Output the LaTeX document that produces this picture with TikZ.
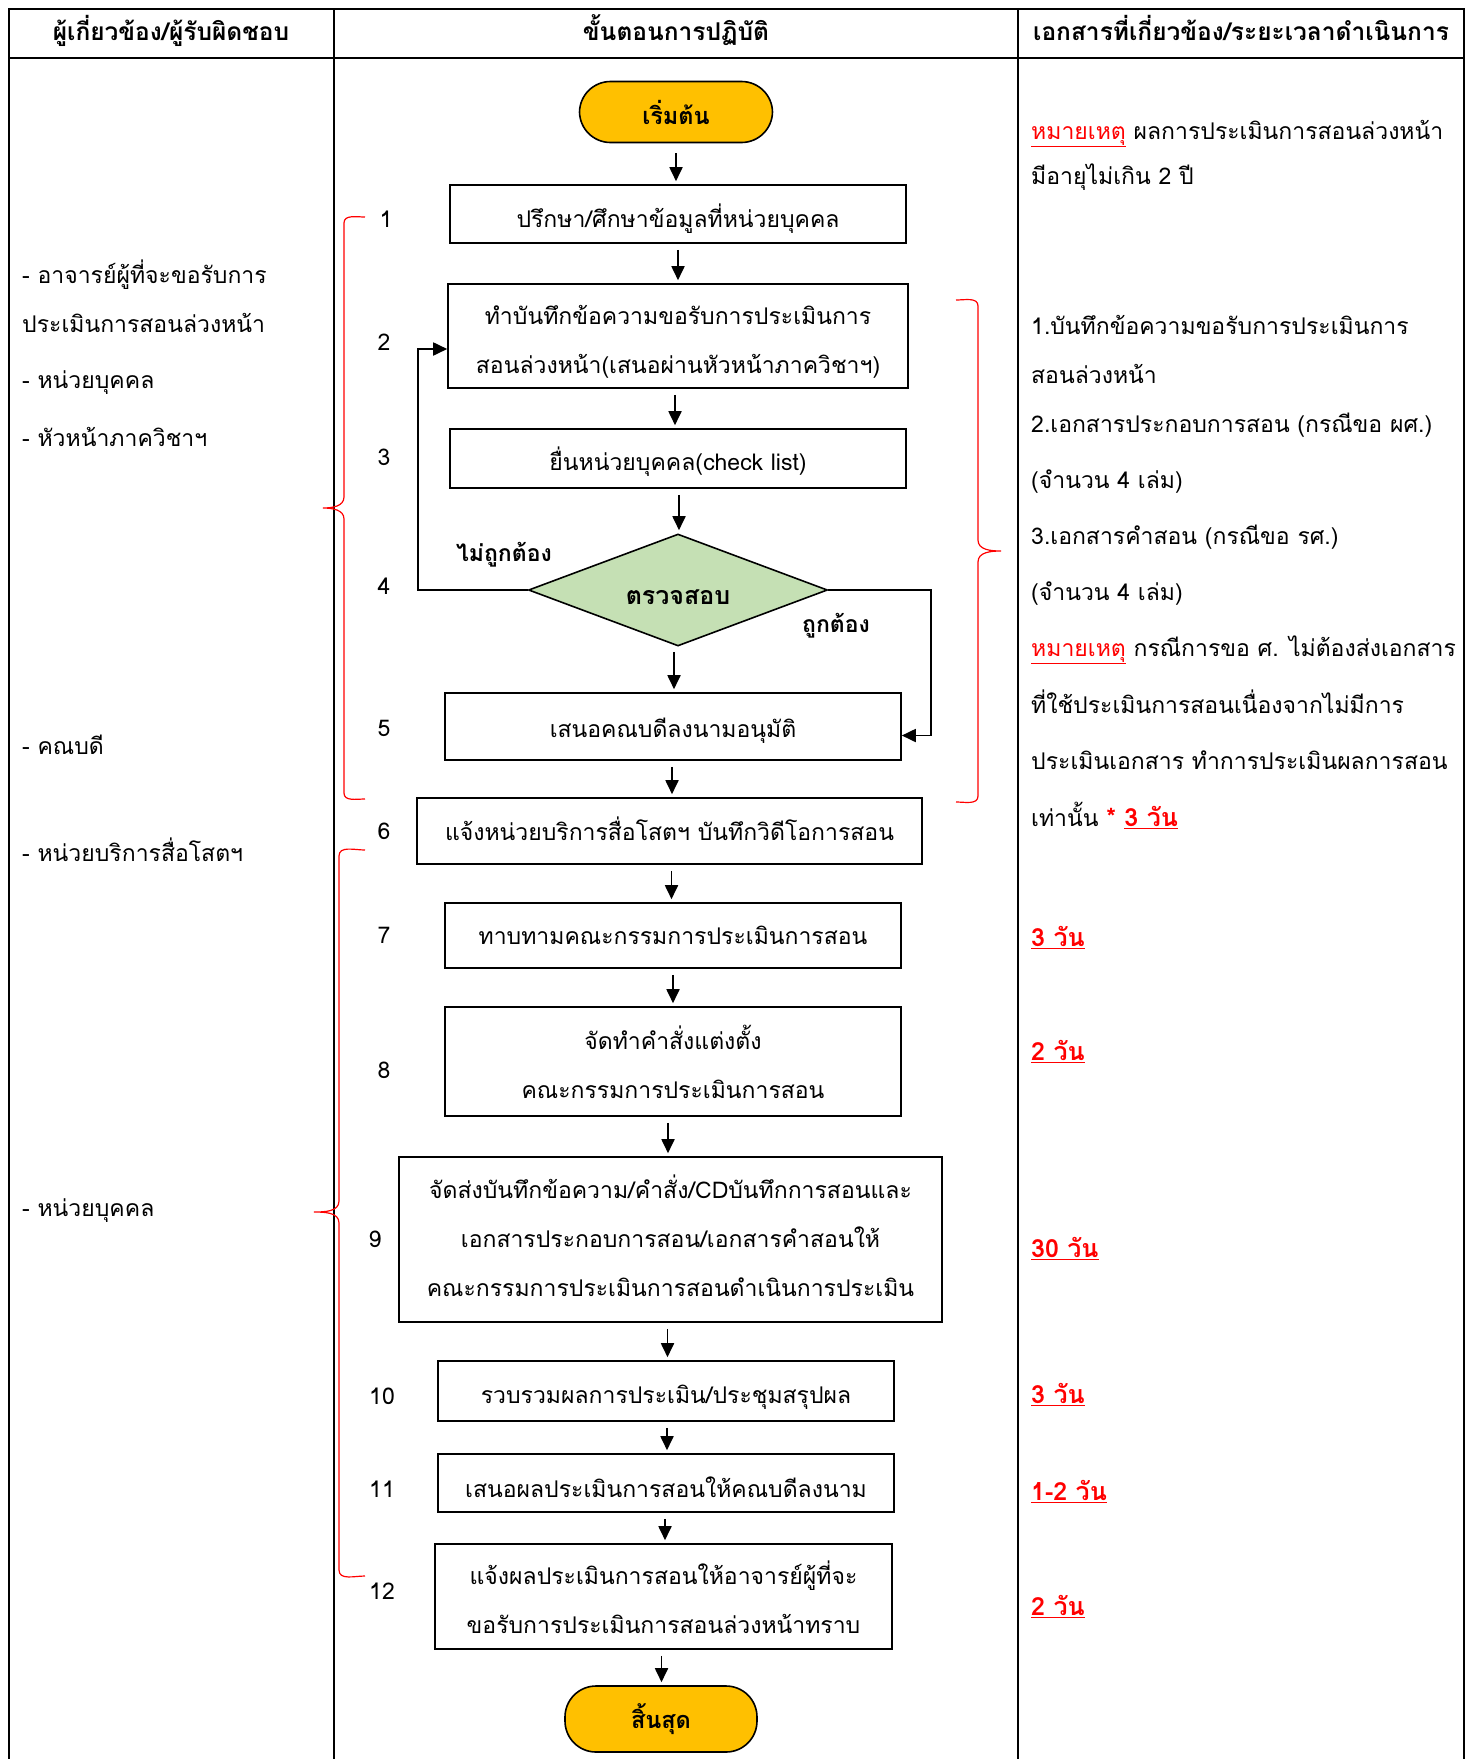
\documentclass[tikz,border=0pt]{standalone}
\usepackage{fontspec}
\setmainfont[Script=Thai]{Loma}
\usetikzlibrary{shapes.geometric,arrows.meta}
\definecolor{termc}{HTML}{FFC000}
\definecolor{diac}{HTML}{C5E0B4}
\definecolor{redc}{HTML}{FF0000}
\newcommand{\rul}[1]{\underline{#1}}
\begin{document}
\begin{tikzpicture}[x=1pt,y=-1pt,
  box/.style={draw=black,line width=1.6pt,inner sep=0pt},
  btxt/.style={align=center,inner sep=0pt,font=\fontsize{23}{49}\selectfont},
  term/.style={draw=black,line width=1.6pt,fill=termc,rounded corners=31pt,inner sep=0pt,font=\fontsize{23.5}{26}\selectfont\bfseries},
  arr/.style={-{Triangle[length=14pt,width=13pt]},line width=1.8pt,shorten <=6pt,shorten >=3pt},
  num/.style={font=\fontsize{23}{26}\selectfont,anchor=mid,yshift=-5.6pt},
  lt/.style={font=\fontsize{23}{26}\selectfont,anchor=mid west,inner sep=0pt,yshift=-5.6pt},
  rt/.style={font=\fontsize{23}{26}\selectfont,anchor=mid west,inner sep=0pt,yshift=-5.6pt},
  dy/.style={rt,text=redc,font=\fontsize{25}{26}\selectfont\bfseries},
  hd/.style={font=\fontsize{24.5}{26}\selectfont\bfseries,anchor=mid,yshift=-6.7pt},
  lbl/.style={font=\fontsize{23}{26}\selectfont\bfseries},
  brc/.style={draw=redc,line width=1.2pt},
  tline/.style={line width=2pt}]
\useasboundingbox (0,0) rectangle (1473,1759);
\fill[white] (0,0) rectangle (1473,1759);
% table
\draw[tline] (9,1759) -- (9,9) -- (1464,9) -- (1464,1759);
\draw[tline] (9,58) -- (1464,58);
\draw[tline] (334,9) -- (334,1759);
\draw[tline] (1018,9) -- (1018,1759);
\node[hd] (h1) at (171,31) {ผู้เกี่ยวข้อง/ผู้รับผิดชอบ};
\node[hd] (h2) at (676,31) {ขั้นตอนการปฏิบัติ};
\node[hd] (h3) at (1241,31) {เอกสารที่เกี่ยวข้อง/ระยะเวลาดำเนินการ};
% flow nodes
\node[term,minimum width=193pt,minimum height=61pt] (start) at (676,112) {เริ่มต้น};
\node[box,minimum width=456pt,minimum height=58pt] (b1) at (678,214) {};
\node[box,minimum width=460pt,minimum height=104pt] (b2) at (678,336) {};
\node[box,minimum width=456pt,minimum height=59pt] (b3) at (678,458.5) {};
\node[diamond,draw=black,line width=1.6pt,fill=diac,inner sep=0pt,minimum width=299pt,minimum height=112pt] (d4) at (678,590) {};
\node[box,minimum width=456pt,minimum height=67pt] (b5) at (673,726.5) {};
\node[box,minimum width=505pt,minimum height=66pt] (b6) at (669.5,831) {};
\node[box,minimum width=456pt,minimum height=65pt] (b7) at (673,935.5) {};
\node[box,minimum width=456pt,minimum height=109pt] (b8) at (673,1061.5) {};
\node[box,minimum width=543pt,minimum height=165pt] (b9) at (670.5,1239.5) {};
\node[box,minimum width=456pt,minimum height=60pt] (b10) at (666,1391) {};
\node[box,minimum width=456pt,minimum height=58pt] (b11) at (666,1483) {};
\node[box,minimum width=457pt,minimum height=105pt] (b12) at (663.5,1596.5) {};
\node[term,minimum width=192pt,minimum height=66pt] (end) at (661,1719) {สิ้นสุด};
% box texts
\node[btxt] (t1) at ([yshift=-4.5pt]b1.center) {ปรึกษา/ศึกษาข้อมูลที่หน่วยบุคคล};
\node[btxt] (t2) at ([yshift=-5.6pt]b2.center) {ทำบันทึกข้อความขอรับการประเมินการ\\สอนล่วงหน้า(เสนอผ่านหัวหน้าภาควิชาฯ)};
\node[btxt] (t3) at ([yshift=-3.4pt]b3.center) {ยื่นหน่วยบุคคล(check list)};
\node[btxt,font=\fontsize{25}{26}\selectfont\bfseries] (t4) at ([yshift=-6.7pt]d4.center) {ตรวจสอบ};
\node[btxt] (t5) at ([yshift=-4.5pt]b5.center) {เสนอคณบดีลงนามอนุมัติ};
\node[btxt] (t6) at ([yshift=2.2pt]b6.center) {แจ้งหน่วยบริการสื่อโสตฯ บันทึกวิดีโอการสอน};
\node[btxt] (t7) at (b7.center) {ทาบทามคณะกรรมการประเมินการสอน};
\node[btxt] (t8) at (b8.center) {จัดทำคำสั่งแต่งตั้ง\\คณะกรรมการประเมินการสอน};
\node[btxt] (t9) at ([yshift=3.4pt]b9.center) {จัดส่งบันทึกข้อความ/คำสั่ง/CDบันทึกการสอนและ\\เอกสารประกอบการสอน/เอกสารคำสอนให้\\คณะกรรมการประเมินการสอนดำเนินการประเมิน};
\node[btxt] (t10) at ([yshift=-6.7pt]b10.center) {รวบรวมผลการประเมิน/ประชุมสรุปผล};
\node[btxt] (t11) at ([yshift=-4.5pt]b11.center) {เสนอผลประเมินการสอนให้คณบดีลงนาม};
\node[btxt] (t12) at ([yshift=-1pt]b12.center) {แจ้งผลประเมินการสอนให้อาจารย์ผู้ที่จะ\\ขอรับการประเมินการสอนล่วงหน้าทราบ};
% arrows
\draw[arr,shorten <=10pt] (start.south) -- (start.south |- b1.north);
\draw[arr] (b1.south) -- (b1.south |- b2.north);
\draw[arr] ([xshift=-3pt]b2.south) -- ([xshift=-3pt]b2.south |- b3.north);
\draw[arr] ([xshift=1pt]b3.south) -- ([xshift=1pt]b3.south |- d4.north);
\draw[arr,shorten <=5pt] ([xshift=-4pt]d4.south) -- ([xshift=-4pt]d4.south |- b5.north);
\draw[arr] ([xshift=-1pt]b5.south) -- ([xshift=-1pt]b5.south |- b6.north);
\draw[arr] ([xshift=2pt]b6.south) -- ([xshift=2pt]b6.south |- b7.north);
\draw[arr] (b7.south) -- (b7.south |- b8.north);
\draw[arr] ([xshift=-5pt]b8.south) -- ([xshift=-5pt]b8.south |- b9.north);
\draw[arr] ([xshift=-3pt]b9.south) -- ([xshift=-3pt]b9.south |- b10.north);
\draw[arr] ([xshift=1pt]b10.south) -- ([xshift=1pt]b10.south |- b11.north);
\draw[arr] ([xshift=-1pt]b11.south) -- ([xshift=-1pt]b11.south |- b12.north);
\draw[arr] ([xshift=-2pt]b12.south) -- ([xshift=-2pt]b12.south |- end.north);
\coordinate (lp) at (418,590);
\coordinate (rp) at (931,590);
\draw[line width=1.8pt,-{Triangle[length=14pt,width=13pt]}] (d4.west) -- (lp) |- ([yshift=-13pt]b2.west);
\draw[line width=1.8pt,-{Triangle[length=14pt,width=13pt]}] (d4.east) -- (rp) |- ([yshift=-9pt]b5.east);
\node[lbl] (no) at (504,555) {ไม่ถูกต้อง};
\node[lbl] (yes) at (836,626) {ถูกต้อง};
% numbers
\node[num] (n1) at (386,219) {1};
\node[num] (n2) at (384,342) {2};
\node[num] (n3) at (384,457) {3};
\node[num] (n4) at (384,586) {4};
\node[num] (n5) at (384,728) {5};
\node[num] (n6) at (384,831) {6};
\node[num] (n7) at (384,935) {7};
\node[num] (n8) at (384,1070) {8};
\node[num] (n9) at (375,1239) {9};
\node[num] (n10) at (382,1396) {10};
\node[num] (n11) at (382,1489) {11};
\node[num] (n12) at (382,1591) {12};
% braces
\draw[brc] (365,217) to[out=180,in=90] (344,223) -- (344,497) to[out=270,in=0] (323,508) to[out=0,in=90] (344,519) -- (344,793) to[out=270,in=180] (365,799);
\draw[brc] (365,850) to[out=180,in=90] (339,856) -- (339,1201) to[out=270,in=0] (314,1212) to[out=0,in=90] (339,1223) -- (339,1570) to[out=270,in=180] (365,1576);
\draw[brc] (956,300) to[out=0,in=90] (978,306) -- (978,540) to[out=270,in=180] (1001,551) to[out=180,in=90] (978,562) -- (978,796) to[out=270,in=0] (956,802);
% left column
\node[lt] (l1) at (22,275) {- อาจารย์ผู้ที่จะขอรับการ};
\node[lt] (l2) at (22,324) {ประเมินการสอนล่วงหน้า};
\node[lt] (l3) at (22,380) {- หน่วยบุคคล};
\node[lt] (l4) at (22,438) {- หัวหน้าภาควิชาฯ};
\node[lt] (l5) at (22,746) {- คณบดี};
\node[lt] (l6) at (22,853) {- หน่วยบริการสื่อโสตฯ};
\node[lt] (l7) at (22,1208) {- หน่วยบุคคล};
% right column
\node[rt] (r1) at (1031,131) {\textcolor{redc}{\rul{หมายเหตุ}} ผลการประเมินการสอนล่วงหน้า};
\node[rt] (r2) at (1031,176) {มีอายุไม่เกิน 2 ปี};
\node[rt] (r3) at (1031,326) {1.บันทึกข้อความขอรับการประเมินการ};
\node[rt] (r4) at (1031,375) {สอนล่วงหน้า};
\node[rt] (r5) at (1031,424) {2.เอกสารประกอบการสอน (กรณีขอ ผศ.)};
\node[rt] (r6) at (1031,480) {(จำนวน 4 เล่ม)};
\node[rt] (r7) at (1031,536) {3.เอกสารคำสอน (กรณีขอ รศ.)};
\node[rt] (r8) at (1031,592) {(จำนวน 4 เล่ม)};
\node[rt] (r9) at (1031,648) {\textcolor{redc}{\rul{หมายเหตุ}} กรณีการขอ ศ. ไม่ต้องส่งเอกสาร};
\node[rt] (r10) at (1031,705) {ที่ใช้ประเมินการสอนเนื่องจากไม่มีการ};
\node[rt] (r11) at (1031,761) {ประเมินเอกสาร ทำการประเมินผลการสอน};
\node[rt] (r12) at (1031,818) {เท่านั้น \textcolor{redc}{\fontsize{25}{26}\selectfont\bfseries * \rul{3 วัน}}};
\node[dy] (d7) at (1031,938) {\rul{3 วัน}};
\node[dy] (d8) at (1031,1052) {\rul{2 วัน}};
\node[dy] (d9) at (1031,1249) {\rul{30 วัน}};
\node[dy] (d10) at (1031,1395) {\rul{3 วัน}};
\node[dy] (d11) at (1031,1492) {\rul{1-2 วัน}};
\node[dy] (d12) at (1031,1607) {\rul{2 วัน}};
\end{tikzpicture}
\end{document}
